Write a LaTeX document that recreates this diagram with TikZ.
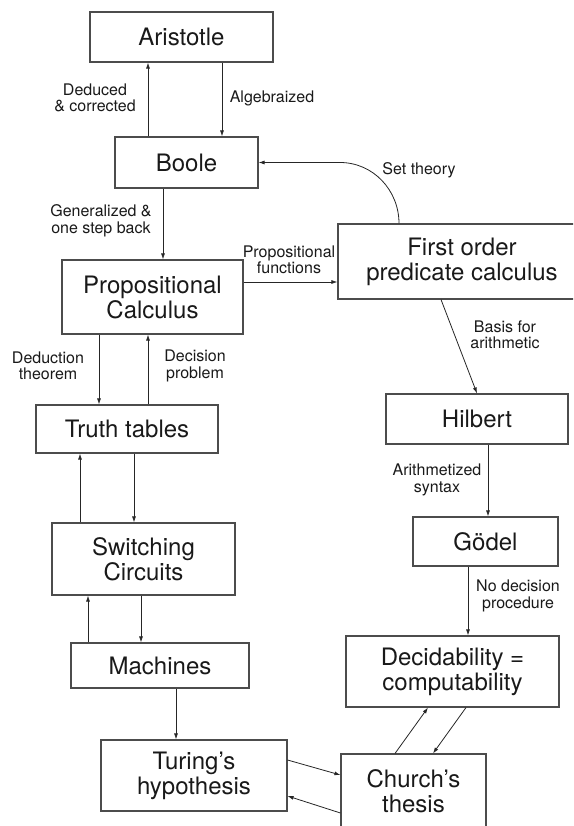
\documentclass[tikz,border=0pt]{standalone}
\usepackage{fontspec}
\setmainfont{TeX Gyre Heros}
\usetikzlibrary{arrows.meta}
\def\stagenode{\node[stage]}
\def\notenode{\node[note]}
\def\drawlink{\draw[link]}

\begin{document}
\begin{tikzpicture}[x=1pt,y=-1pt,
  stage/.style={draw=black!70,line width=1.1pt,align=center,inner sep=0pt,
    text=black!90,font=\fontsize{24}{25}\selectfont},
  note/.style={align=center,inner sep=0pt,text=black!90,
    font=\fontsize{16}{16.5}\selectfont},
  link/.style={draw=black!85,line width=0.8pt,-{Latex[length=6pt,width=4pt]}}]
\clip (0,0) rectangle (573,826);
% boxes
\stagenode[minimum width=183,minimum height=50] (aristotle) at (181.5,37) {Aristotle};
\stagenode[minimum width=143,minimum height=51] (boole) at (186.5,162.5) {Boole};
\stagenode[minimum width=181,minimum height=74] (propcalc) at (152.5,297) {Propositional\\Calculus};
\stagenode[minimum width=248,minimum height=75] (firstorder) at (462,261.5) {First order\\predicate calculus};
\stagenode[minimum width=182,minimum height=48] (truthtables) at (127,429) {Truth tables};
\stagenode[minimum width=183,minimum height=72] (switching) at (143.5,559) {Switching\\Circuits};
\stagenode[minimum width=178,minimum height=45] (machines) at (160,665.5) {Machines};
\stagenode[minimum width=186,minimum height=71] (turing) at (194,775.5) {Turing's\\hypothesis};
\stagenode[minimum width=182,minimum height=50] (hilbert) at (477,419) {Hilbert};
\stagenode[minimum width=145,minimum height=49] (goedel) at (485.5,541.5) {Gödel};
\stagenode[minimum width=213,minimum height=71] (decidable) at (452.5,671.5) {Decidability =\\computability};
\stagenode[minimum width=145,minimum height=74] (church) at (413.5,791) {Church's\\thesis};
% labels
\notenode (deduced) at (95,98) {Deduced\\\& corrected};
\notenode (algebraized) at (272,98) {Algebraized};
\notenode (settheory) at (419,170) {Set theory};
\notenode (generalized) at (101,221) {Generalized \&\\one step back};
\notenode (propfunctions) at (289,260) {Propositional\\functions};
\notenode (deduction) at (48,366) {Deduction\\theorem};
\notenode (decision) at (195,366) {Decision\\problem};
\notenode (basis) at (505,335) {Basis for\\arithmetic};
\notenode (arithmetized) at (437,480) {Arithmetized\\syntax};
\notenode (nodecision) at (518,596) {No decision\\procedure};
% links
\coordinate (setbend) at (340,162.5);
\drawlink (148,0 |- boole.north) -- (148,0 |- aristotle.south);
\drawlink (222,0 |- aristotle.south) -- (222,0 |- boole.north);
\drawlink (firstorder.north -| 399,0) to[out=90,in=0] (setbend) -- (boole.east);
\drawlink (163,0 |- boole.south) -- (163,0 |- propcalc.north);
\drawlink (propcalc.east |- 0,282) -- (firstorder.west |- 0,282);
\drawlink (99,0 |- propcalc.south) -- (99,0 |- truthtables.north);
\drawlink (148,0 |- truthtables.north) -- (148,0 |- propcalc.south);
\drawlink (80,0 |- switching.north) -- (80,0 |- truthtables.south);
\drawlink (134,0 |- truthtables.south) -- (134,0 |- switching.north);
\drawlink (88,0 |- machines.north) -- (88,0 |- switching.south);
\drawlink (141,0 |- switching.south) -- (141,0 |- machines.north);
\drawlink (176,0 |- machines.south) -- (176,0 |- turing.north);
\drawlink (firstorder.south -| 441,0) -- (hilbert.north -| 477,0);
\drawlink (488,0 |- hilbert.south) -- (488,0 |- goedel.north);
\drawlink (468,0 |- goedel.south) -- (468,0 |- decidable.north);
\drawlink (church.north -| 395,0) -- (decidable.south -| 428,0);
\drawlink (decidable.south -| 466,0) -- (church.north -| 433,0);
\drawlink (turing.east |- 0,760) -- (church.west |- 0,775);
\drawlink (church.west |- 0,813) -- (turing.east |- 0,796);
\end{tikzpicture}
\end{document}
